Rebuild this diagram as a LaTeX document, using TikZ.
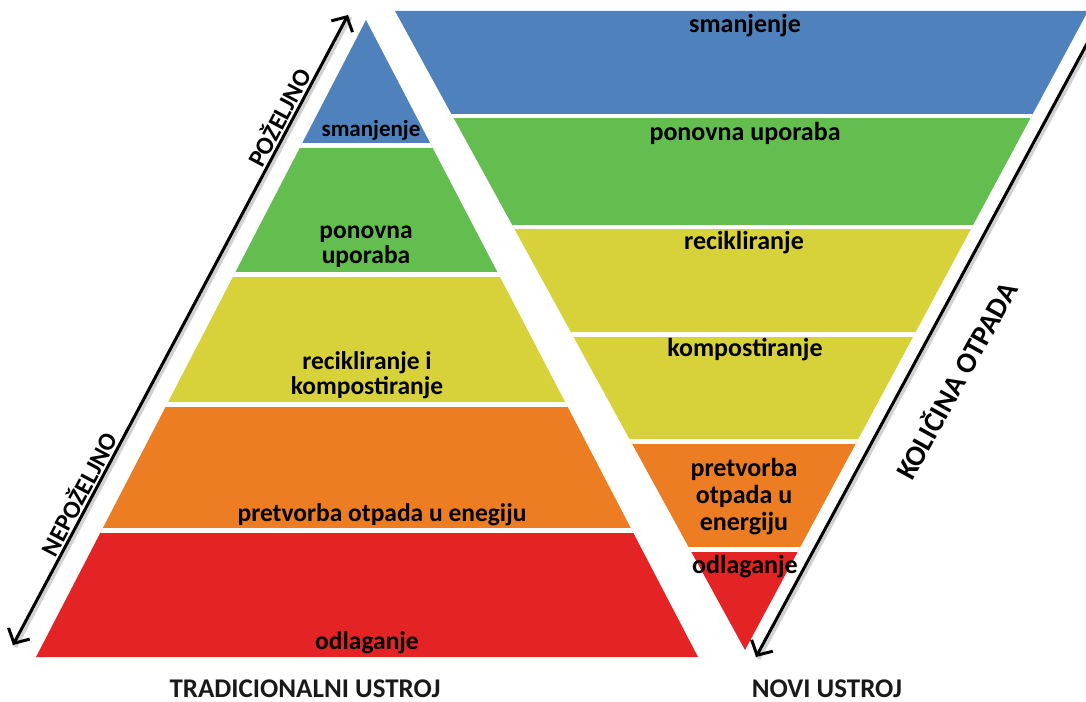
\documentclass[tikz,border=0pt]{standalone}
\usepackage{fontspec}
\setmainfont{Carlito}
\usetikzlibrary{arrows.meta,calc}
\definecolor{cblue}{HTML}{4F81BD}
\definecolor{cgreen}{HTML}{64BE4F}
\definecolor{cyellow}{HTML}{D7D23A}
\definecolor{corange}{HTML}{EC7D22}
\definecolor{cred}{HTML}{E42324}
\tikzset{mybarb/.tip={Straight Barb[length=11pt, width=24pt, line width=3pt]}}
\begin{document}
\begin{tikzpicture}[x=1pt,y=-1pt,
  ltxt/.style={font=\bfseries\fontsize{25.5}{25}\selectfont, align=center, text=black, inner sep=0pt},
  rtxt/.style={font=\bfseries\fontsize{26}{27}\selectfont, align=center, text=black, inner sep=0pt},
  axtxt/.style={font=\bfseries\fontsize{25}{28}\selectfont, text=black, inner sep=0pt},
  axbold/.style={font=\bfseries\fontsize{29}{29}\selectfont, text=black, inner sep=0pt},
  captxt/.style={font=\bfseries\fontsize{27}{29}\selectfont, text=black!90, inner sep=0pt},
  gapline/.style={white, line width=4.5pt},
  axarrow/.style={black, line width=3pt},
  axshadow/.style={black!40, opacity=0.45, line width=6pt}]
\useasboundingbox (0,0) rectangle (1086,701);
\clip (0,0) rectangle (1086,701);

% ---------- left (traditional) pyramid ----------
\coordinate (LA) at (366,20);
\coordinate (LL) at (36,657);
\coordinate (LR) at (698,657);
\begin{scope}
  \clip (LA) -- (LL) -- (LR) -- cycle;
  \fill[cblue]   (0,0)     rectangle (1086,145.5);
  \fill[cgreen]  (0,145.5) rectangle (1086,274.5);
  \fill[cyellow] (0,274.5) rectangle (1086,404.5);
  \fill[corange] (0,404.5) rectangle (1086,530.5);
  \fill[cred]    (0,530.5) rectangle (1086,701);
  \foreach \yy in {145.5,274.5,404.5,530.5}
    \draw[gapline] (0,\yy) -- (1086,\yy);
\end{scope}

% ---------- right (new) inverted pyramid ----------
\coordinate (RA) at (395,11);
\coordinate (RB) at (1088,11);
\coordinate (RC) at (745,650);
\begin{scope}
  \clip (RA) -- (RB) -- (RC) -- cycle;
  \fill[cblue]   (300,0)     rectangle (1100,116);
  \fill[cgreen]  (300,116)   rectangle (1100,227);
  \fill[cyellow] (300,227)   rectangle (1100,441.5);
  \fill[corange] (300,441.5) rectangle (1100,549.5);
  \fill[cred]    (300,549.5) rectangle (1100,701);
  \foreach \yy in {116,227,334.5,441.5,549.5}
    \draw[gapline] (300,\yy) -- (1100,\yy);
\end{scope}

% ---------- arrows ----------
\coordinate (A1s) at (13,645);
\coordinate (A1e) at (348,15);
\coordinate (A2s) at (1110,1);
\coordinate (A2e) at (756,657);
\draw[axshadow] ($(A1s)+(1.5,1.5)$) -- ($(A1e)+(1.5,1.5)$);
\draw[axshadow] ($(A2s)+(1.5,1.5)$) -- ($(A2e)+(1.5,1.5)$);
\draw[axarrow, mybarb-mybarb] (A1s) -- (A1e);
\draw[axarrow, -mybarb] (A2s) -- (A2e);

% ---------- left labels ----------
\node[ltxt, font=\bfseries\fontsize{23}{25}\selectfont] (l1) at (371,130) {smanjenje};
\node[ltxt] (l2) at (366,247) {ponovna\\uporaba};
\node[ltxt] (l3) at (367,375) {recikliranje i\\kompostiranje};
\node[ltxt] (l4) at (382,515) {pretvorba otpada u enegiju};
\node[ltxt] (l5) at (367,643) {odlaganje};

% ---------- right labels ----------
\node[rtxt] (r1) at (745,26) {smanjenje};
\node[rtxt] (r2) at (745,133) {ponovna uporaba};
\node[rtxt] (r3) at (744,243) {recikliranje};
\node[rtxt] (r4) at (745,350) {kompostiranje};
\node[rtxt] (r5) at (744,497) {pretvorba\\otpada u\\energiju};
\node[rtxt] (r6) at (745,567) {odlaganje};

% ---------- axis labels ----------
\node[axtxt, rotate=62, anchor=south] (pz) at ($(A1s)!0.828!(A1e)+(-2.6,-1.4)$) {POŽELJNO};
\node[axtxt, rotate=62, anchor=south] (npz) at ($(A1s)!0.23!(A1e)+(-2.6,-1.4)$) {NEPOŽELJNO};
\node[axbold, rotate=61] (ko) at (955,380) {KOLIČINA OTPADA};

% ---------- captions ----------
\node[captxt] (ct) at (305,689) {TRADICIONALNI USTROJ};
\node[captxt] (cn) at (827,689) {NOVI USTROJ};
\end{tikzpicture}
\end{document}
